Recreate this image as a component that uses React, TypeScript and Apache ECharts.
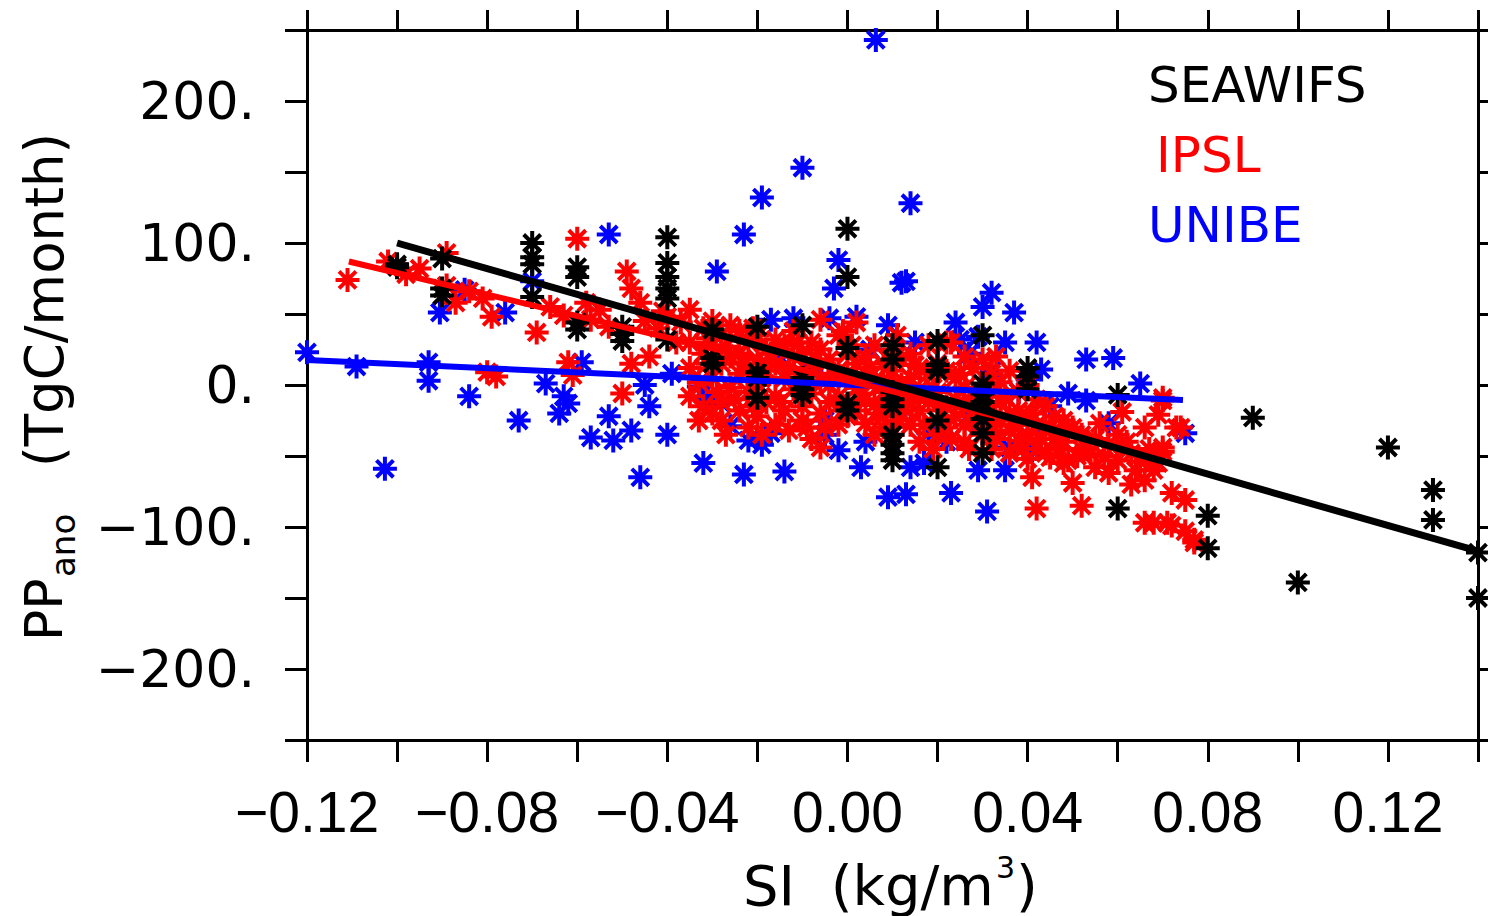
import React, { useEffect, useRef } from "react";
import * as echarts from "echarts";

type Pt = [number, number];

// SEAWIFS observations (black)
const seawifsPoints: Pt[] = [
  [-0.10, 85], [-0.10, 83],
  [-0.09, 89], [-0.09, 68], [-0.09, 63],
  [-0.07, 100], [-0.07, 90], [-0.07, 85], [-0.07, 62],
  [-0.06, 83], [-0.06, 76], [-0.06, 44], [-0.06, 39],
  [-0.05, 41], [-0.05, 36], [-0.05, 31],
  [-0.04, 104], [-0.04, 86], [-0.04, 76], [-0.04, 68], [-0.04, 61], [-0.04, 32],
  [-0.03, 39], [-0.03, 19], [-0.03, 15],
  [-0.02, 41], [-0.02, 9], [-0.02, 5], [-0.02, -9],
  [-0.01, 42], [-0.01, 5], [-0.01, -3], [-0.01, -7],
  [0.00, 110], [0.00, 76], [0.00, 26], [0.00, -13], [0.00, -18],
  [0.01, 28], [0.01, 18], [0.01, -5], [0.01, -10], [0.01, -15], [0.01, -35], [0.01, -42], [0.01, -48], [0.01, -53],
  [0.02, 31], [0.02, 14], [0.02, 10], [0.02, -25], [0.02, -58],
  [0.03, 35], [0.03, 1], [0.03, -6], [0.03, -12], [0.03, -18], [0.03, -24], [0.03, -34], [0.03, -48],
  [0.04, 12], [0.04, 6], [0.04, -3],
  [0.06, -7], [0.06, -87],
  [0.08, -92], [0.08, -115],
  [0.09, -23],
  [0.10, -139],
  [0.12, -44],
  [0.13, -74], [0.13, -95],
  [0.14, -118], [0.14, -150],
];

// IPSL model (red)
const ipslPoints: Pt[] = [
  [-0.111, 74], [-0.102, 87], [-0.098, 78], [-0.095, 82], [-0.089, 93], [-0.089, 70], [-0.087, 58],
  [-0.084, 66], [-0.081, 61], [-0.079, 48], [-0.080, 9], [-0.078, 6], [-0.069, 37], [-0.066, 55],
  [-0.063, 49], [-0.062, 16], [-0.061, 7], [-0.060, 103], [-0.058, 58], [-0.057, 46], [-0.055, 53],
  [-0.053, 41], [-0.050, -6], [-0.049, 80], [-0.048, 68], [-0.048, 15], [-0.046, 58], [-0.045, 45],
  [-0.044, 20], [-0.042, 40], [-0.041, 52], [-0.040, 48], [-0.038, 30], [-0.037, 44],
  [-0.035, 53], [-0.035, 30], [-0.035, 12], [-0.035, -8],
  [-0.032, 40], [-0.032, 22], [-0.032, -15],
  [-0.030, 45], [-0.030, 28], [-0.030, 5], [-0.030, -20],
  [-0.028, 35], [-0.028, 15], [-0.028, -12], [-0.028, -25],
  [-0.026, 42], [-0.026, 20], [-0.026, -2],
  [-0.024, 38], [-0.024, 22], [-0.024, 8], [-0.024, -18],
  [-0.022, 30], [-0.022, 12], [-0.022, -5], [-0.022, -30],
  [-0.020, 35], [-0.020, 18], [-0.020, 0], [-0.020, -22],
  [-0.018, 25], [-0.018, 10], [-0.018, -12],
  [-0.016, 32], [-0.016, 15], [-0.016, -8], [-0.016, -28],
  [-0.014, 28], [-0.014, 5], [-0.014, -18], [-0.013, -32],
  [-0.012, 38], [-0.012, 20], [-0.012, -3],
  [-0.010, 22], [-0.010, 8], [-0.010, -15], [-0.010, -25],
  [-0.008, 30], [-0.008, 12], [-0.008, -6], [-0.008, -38],
  [-0.006, 46], [-0.006, 25], [-0.006, 3], [-0.006, -20], [-0.006, -44],
  [-0.004, 18], [-0.004, 0], [-0.004, -12],
  [-0.002, 35], [-0.002, 10], [-0.002, -8], [-0.002, -28],
  [0.000, 22], [0.000, 5], [0.000, -15], [0.000, -22],
  [0.002, 44], [0.002, 15], [0.002, -2], [0.002, -18],
  [0.004, 20], [0.004, 8], [0.004, -10], [0.004, -27],
  [0.006, 28], [0.006, 2], [0.006, -14],
  [0.008, 15], [0.008, -5], [0.008, -22], [0.008, -30],
  [0.010, 25], [0.010, 10], [0.010, -12], [0.010, -35],
  [0.012, 18], [0.012, 0], [0.012, -20],
  [0.014, 22], [0.014, 5], [0.014, -8], [0.014, -28],
  [0.016, 12], [0.016, -3], [0.016, -18], [0.016, -40],
  [0.018, 28], [0.018, 8], [0.018, -12],
  [0.020, 15], [0.020, -5], [0.020, -25], [0.020, -35],
  [0.022, 30], [0.022, 10], [0.022, -15], [0.022, -30], [0.023, 30],
  [0.024, 5], [0.024, -10], [0.024, -22],
  [0.026, 20], [0.026, -2], [0.026, -28], [0.026, -40],
  [0.028, 12], [0.028, -8], [0.028, -18],
  [0.030, 18], [0.030, -5], [0.030, -22], [0.030, -35],
  [0.032, 8], [0.032, -15], [0.032, -29], [0.032, -45],
  [0.034, 2], [0.034, -12], [0.034, -25],
  [0.036, 10], [0.036, -20], [0.036, -32], [0.036, -48],
  [0.038, -5], [0.038, -18], [0.038, -39],
  [0.040, 0], [0.040, -25], [0.040, -35], [0.040, -52],
  [0.041, -65], [0.042, -10], [0.042, -28], [0.042, -45], [0.042, -87],
  [0.044, -15], [0.044, -30], [0.044, -48],
  [0.045, -51], [0.046, -22], [0.046, -38],
  [0.048, -25], [0.048, -40], [0.048, -55],
  [0.049, -32], [0.049, -53], [0.050, -69], [0.050, -30],
  [0.052, -85], [0.052, -45], [0.052, -35],
  [0.053, -44], [0.055, -38], [0.055, -58], [0.056, -27],
  [0.058, -42], [0.058, -62], [0.060, -53], [0.060, -35], [0.061, -19],
  [0.063, -48], [0.063, -70], [0.065, -54],
  [0.066, -67], [0.066, -97], [0.066, -30],
  [0.068, -97], [0.068, -60], [0.069, -21],
  [0.070, -11], [0.070, -44], [0.070, -47], [0.070, -9],
  [0.071, -97], [0.072, -76], [0.072, -99], [0.073, -30], [0.074, -30],
  [0.075, -81], [0.075, -103], [0.077, -109], [0.077, -111],
  [-0.033, 2], [-0.031, 33], [-0.029, -5], [-0.027, 27], [-0.025, -10], [-0.023, 15],
  [-0.021, -15], [-0.019, 5], [-0.017, 22], [-0.015, -12], [-0.013, 12], [-0.011, 30],
  [-0.009, -2], [-0.007, 18], [-0.005, -30], [-0.003, 8], [-0.001, -18], [0.001, 28],
  [0.003, -6], [0.005, 12], [0.007, -20], [0.009, 3], [0.011, -25], [0.013, -12],
  [0.015, 14], [0.017, -28], [0.019, -2], [0.021, -18], [0.023, -38], [0.025, 8],
  [0.027, -15], [0.029, -30], [0.031, 0], [0.033, -38], [0.035, -8], [0.037, -28],
  [0.039, -45], [0.041, -20], [0.043, -38], [0.045, -30], [0.047, -45], [0.051, -50],
  [0.054, -48], [0.057, -50], [0.062, -40], [0.064, -60], [0.067, -45], [0.069, -55],
  [-0.027, -35], [-0.019, -35], [-0.009, -30], [0.006, -35], [0.019, -45], [0.027, -45],
  [0.033, 20], [0.011, 35], [-0.001, 38], [-0.021, 40], [-0.031, 15], [-0.033, -25],
];

// UNIBE model (blue)
const unibePoints: Pt[] = [
  [0.0063, 243], [-0.019, 132], [-0.010, 153], [0.014, 128], [-0.053, 106], [-0.023, 106],
  [-0.002, 88], [-0.029, 80], [0.012, 72], [-0.003, 68],
  [-0.1027, -59], [-0.12, 23], [-0.109, 13], [-0.093, 16], [-0.093, 3], [-0.084, -8],
  [-0.0905, 51], [-0.085, 67], [-0.076, 51], [-0.070, 73], [-0.073, -25], [-0.067, 1],
  [-0.063, -8], [-0.062, -13], [-0.064, -20], [-0.059, 16], [-0.057, -37], [-0.053, -22],
  [-0.052, -39], [-0.048, -32], [-0.046, -65], [-0.045, 0], [-0.044, -15], [-0.040, -35],
  [-0.039, 8], [-0.033, -1], [-0.032, -55], [-0.031, -10], [-0.028, -13], [-0.026, -29],
  [-0.023, -63], [-0.022, -39], [-0.019, -42], [-0.017, -34], [-0.014, -61],
  [-0.017, 46], [-0.012, 47], [-0.004, 47], [0.002, 48], [0.009, 42],
  [-0.005, -25], [-0.005, -35], [-0.002, -46], [0.003, -58], [0.009, -79], [0.013, -77],
  [0.014, -58], [0.017, -55], [0.018, -34], [0.023, -76], [0.029, -60], [0.031, -89],
  [0.035, -60], [0.036, -44], [0.041, -46], [0.042, -32],
  [0.013, 73], [0.032, 65], [0.030, 55], [0.037, 51], [0.024, 44], [0.029, 34], [0.025, 32],
  [0.035, 30], [0.042, 30], [0.043, 11], [0.040, 4], [0.053, 18], [0.059, 19], [0.065, 1],
  [0.049, -6], [0.053, -11], [0.058, -27], [0.075, -34],
  [-0.015, 20], [-0.008, 10], [0.005, 25], [0.015, 30], [0.020, 15], [0.027, 22], [0.032, 10],
  [0.038, -5], [0.045, -15], [0.012, -20], [0.022, -40], [0.028, -25], [0.004, -40], [-0.010, -5],
];

// Regression lines (end points)
const seawifsFit: Pt[] = [[-0.10, 100], [0.14, -117]];
const ipslFit: Pt[] = [[-0.1107, 87], [0.07, -50]];
const unibeFit: Pt[] = [[-0.12, 17.6], [0.0745, -10.6]];

const legendNames = ["SEAWIFS", "IPSL", "UNIBE"];
const colors = ["#000000", "#ff0000", "#0000ff"];

const xLabelFormatter = (v: number) => {
  const k = Math.round(v * 100);
  if (k % 4 !== 0) return "";
  const s = Math.abs(v).toFixed(2);
  return k < 0 ? "\u2212" + s : s;
};
const yLabelFormatter = (v: number) => {
  const k = Math.round(v);
  if (k % 100 !== 0) return "";
  return (k < 0 ? "\u2212" + Math.abs(k) : String(k)) + ".";
};

const STAR = "path://M0,-10L0,10M-10,0L10,0M-7.07,-7.07L7.07,7.07M-7.07,7.07L7.07,-7.07";

export default function App() {
  const ref = useRef<HTMLDivElement>(null);
  useEffect(() => {
    if (!ref.current) return;
    const chart = echarts.init(ref.current, null, { renderer: "svg" });
    const axisLine = { onZero: false, lineStyle: { color: "#000", width: 3 } };
    const tickStyle = { color: "#000", width: 3 };
    const scatter = (name: string, data: Pt[], color: string) => ({
      type: "scatter",
      name,
      data,
      symbol: STAR,
      symbolSize: 24,
      clip: true,
      itemStyle: { color, borderColor: color, borderWidth: 4, opacity: 1 },
      emphasis: { disabled: true },
    });
    const fitLine = (name: string, data: Pt[], color: string, width: number) => ({
      type: "line",
      name: name + " fit",
      data,
      showSymbol: false,
      symbol: "none",
      lineStyle: { color, width },
      emphasis: { disabled: true },
    });
    const textStyle = (text: string, font: string) => ({
      text,
      fill: "#000",
      font,
      textAlign: "left",
      align: "left",
      textVerticalAlign: "middle",
      verticalAlign: "middle",
    });
    chart.setOption({
      animation: false,
      backgroundColor: "#fff",
      grid: { left: 307, right: 10, top: 30, bottom: 176 },
      xAxis: [
        {
          type: "value",
          position: "bottom",
          min: -0.12,
          max: 0.14,
          interval: 0.02,
          axisLine,
          axisTick: { show: true, inside: false, length: 22, lineStyle: tickStyle },
          axisLabel: {
            margin: 43,
            formatter: xLabelFormatter,
            color: "#000",
            fontSize: 57,
            fontFamily: "Liberation Sans",
          },
          splitLine: { show: false },
        },
        {
          type: "value",
          position: "top",
          min: -0.12,
          max: 0.14,
          interval: 0.02,
          axisLine,
          axisTick: { show: true, inside: false, length: 20, lineStyle: tickStyle },
          axisLabel: { show: false },
          splitLine: { show: false },
        },
      ],
      yAxis: [
        {
          type: "value",
          position: "left",
          min: -250,
          max: 250,
          interval: 50,
          axisLine,
          axisTick: { show: true, inside: false, length: 22, lineStyle: tickStyle },
          axisLabel: {
            margin: 52,
            formatter: yLabelFormatter,
            color: "#000",
            fontSize: 52,
            fontFamily: "DejaVu Sans",
          },
          splitLine: { show: false },
        },
        {
          type: "value",
          position: "right",
          min: -250,
          max: 250,
          interval: 50,
          axisLine,
          axisTick: { show: true, inside: false, length: 20, lineStyle: tickStyle },
          axisLabel: { show: false },
          splitLine: { show: false },
        },
      ],
      series: [
        scatter(legendNames[2], unibePoints, colors[2]),
        fitLine(legendNames[2], unibeFit, colors[2], 6),
        scatter(legendNames[1], ipslPoints, colors[1]),
        fitLine(legendNames[1], ipslFit, colors[1], 6),
        scatter(legendNames[0], seawifsPoints, colors[0]),
        fitLine(legendNames[0], seawifsFit, colors[0], 7),
      ],
      graphic: [
        ...legendNames.map((n, i) => ({
          type: "text",
          x: i === 1 ? 1156 : 1148,
          y: 85 + i * 70,
          z: 100,
          style: { ...textStyle(n, '50px "DejaVu Sans"'), fill: colors[i] },
        })),
        {
          type: "group",
          x: 44,
          y: 385,
          rotation: Math.PI / 2,
          children: [
            { type: "text", x: -256, y: 0, style: textStyle("PP", '52px "DejaVu Sans"') },
            { type: "text", x: -192, y: 19, style: textStyle("ano", '34px "DejaVu Sans"') },
            { type: "text", x: -82, y: 0, style: textStyle("(TgC/month)", '53px "DejaVu Sans"') },
          ],
        },
        {
          type: "group",
          x: 743,
          y: 885,
          children: [
            { type: "text", x: 0, y: 0, style: textStyle("SI  (kg/m", '56px "DejaVu Sans"') },
            { type: "text", x: 253, y: -18, style: textStyle("3", '30px "DejaVu Sans"') },
            { type: "text", x: 273, y: 0, style: textStyle(")", '56px "DejaVu Sans"') },
          ],
        },
      ],
    });
    return () => chart.dispose();
  }, []);
  return (
    <div
      ref={ref}
      style={{ position: "fixed", left: 0, top: 0, width: 1488, height: 916, background: "#fff" }}
    />
  );
}
